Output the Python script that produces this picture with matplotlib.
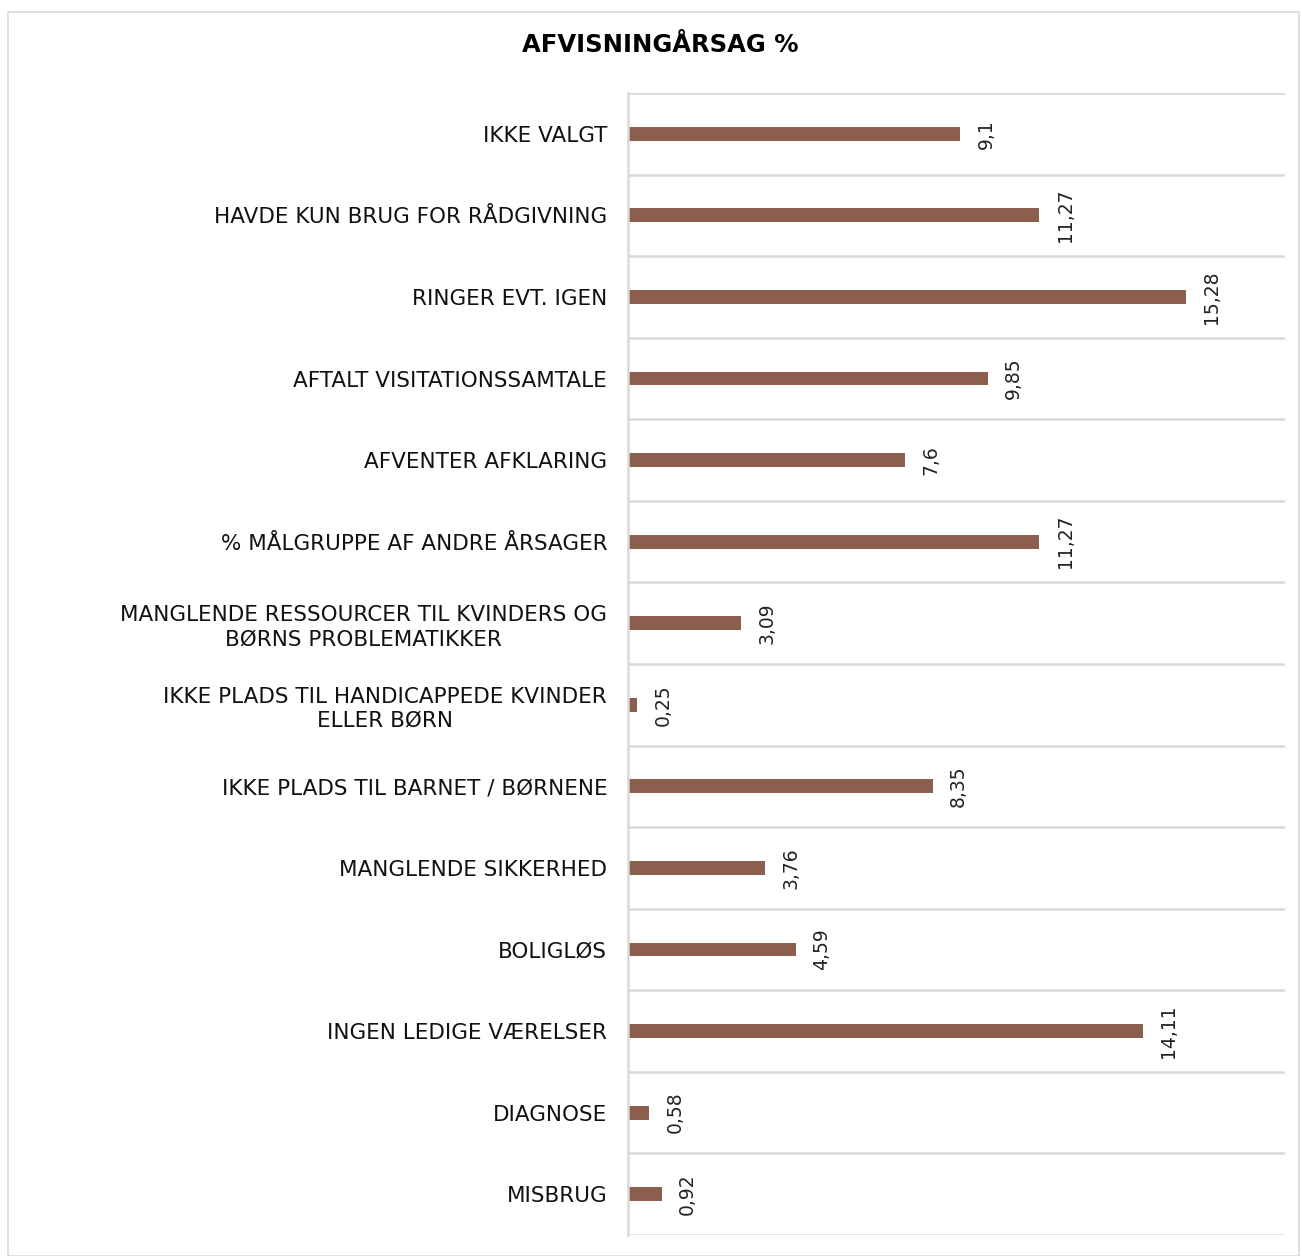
import numpy as np
import matplotlib.pyplot as plt
from matplotlib.patches import Rectangle

# Data
categories = [
    "IKKE VALGT",
    "HAVDE KUN BRUG FOR RÅDGIVNING",
    "RINGER EVT. IGEN",
    "AFTALT VISITATIONSSAMTALE",
    "AFVENTER AFKLARING",
    "% MÅLGRUPPE AF ANDRE ÅRSAGER",
    "MANGLENDE RESSOURCER TIL KVINDERS OG\nBØRNS PROBLEMATIKKER",
    "IKKE PLADS TIL HANDICAPPEDE KVINDER\nELLER BØRN",
    "IKKE PLADS TIL BARNET / BØRNENE",
    "MANGLENDE SIKKERHED",
    "BOLIGLØS",
    "INGEN LEDIGE VÆRELSER",
    "DIAGNOSE",
    "MISBRUG",
]
values = [9.1, 11.27, 15.28, 9.85, 7.6, 11.27, 3.09, 0.25, 8.35, 3.76, 4.59, 14.11, 0.58, 0.92]
value_labels = ["9,1", "11,27", "15,28", "9,85", "7,6", "11,27", "3,09", "0,25",
                "8,35", "3,76", "4,59", "14,11", "0,58", "0,92"]

plt.rcParams['font.family'] = ['DejaVu Sans']

fig = plt.figure(figsize=(13.02, 12.56), dpi=100)
fig.patches.append(Rectangle((8 / 1302, 0.0), 1291 / 1302, 1 - 12 / 1256,
                             transform=fig.transFigure, fill=False,
                             edgecolor='#d9d9d9', linewidth=1.2))

ax = fig.add_axes([628 / 1302, 1 - 1235 / 1256, 657 / 1302, (1235 - 93) / 1256])

y = np.arange(len(categories))
ax.barh(y, values, height=0.17, color='#8b5e4e')

for yi, v, lab in zip(y, values, value_labels):
    ax.text(v + 0.45, yi, lab, rotation=90, ha='left', va='center',
            fontsize=13.5, color='#222222')

ax.set_xlim(0, 18)
ax.set_ylim(len(categories) - 0.5, -0.5)
ax.set_xticks([])
ax.set_yticks(y)
ax.set_yticklabels(categories, fontsize=15.5, color='#111111', ha='right',
                   multialignment='center', linespacing=1.25)
ax.tick_params(axis='y', length=0, pad=15)
ax.set_yticks(np.arange(len(categories) + 1) - 0.5, minor=True)
ax.tick_params(axis='y', which='minor', length=0)
ax.grid(True, which='minor', axis='y', color='#d9d9d9', linewidth=1.8)
ax.set_axisbelow(True)

for s in ['top', 'right', 'bottom']:
    ax.spines[s].set_visible(False)
ax.spines['left'].set_color('#d9d9d9')
ax.spines['left'].set_linewidth(1.8)

fig.text(660 / 1302, 1 - 45 / 1256, "AFVISNINGÅRSAG %", ha='center', va='center',
         fontsize=17.5, fontweight='bold', color='black')

fig.savefig("out.png", dpi=100)
